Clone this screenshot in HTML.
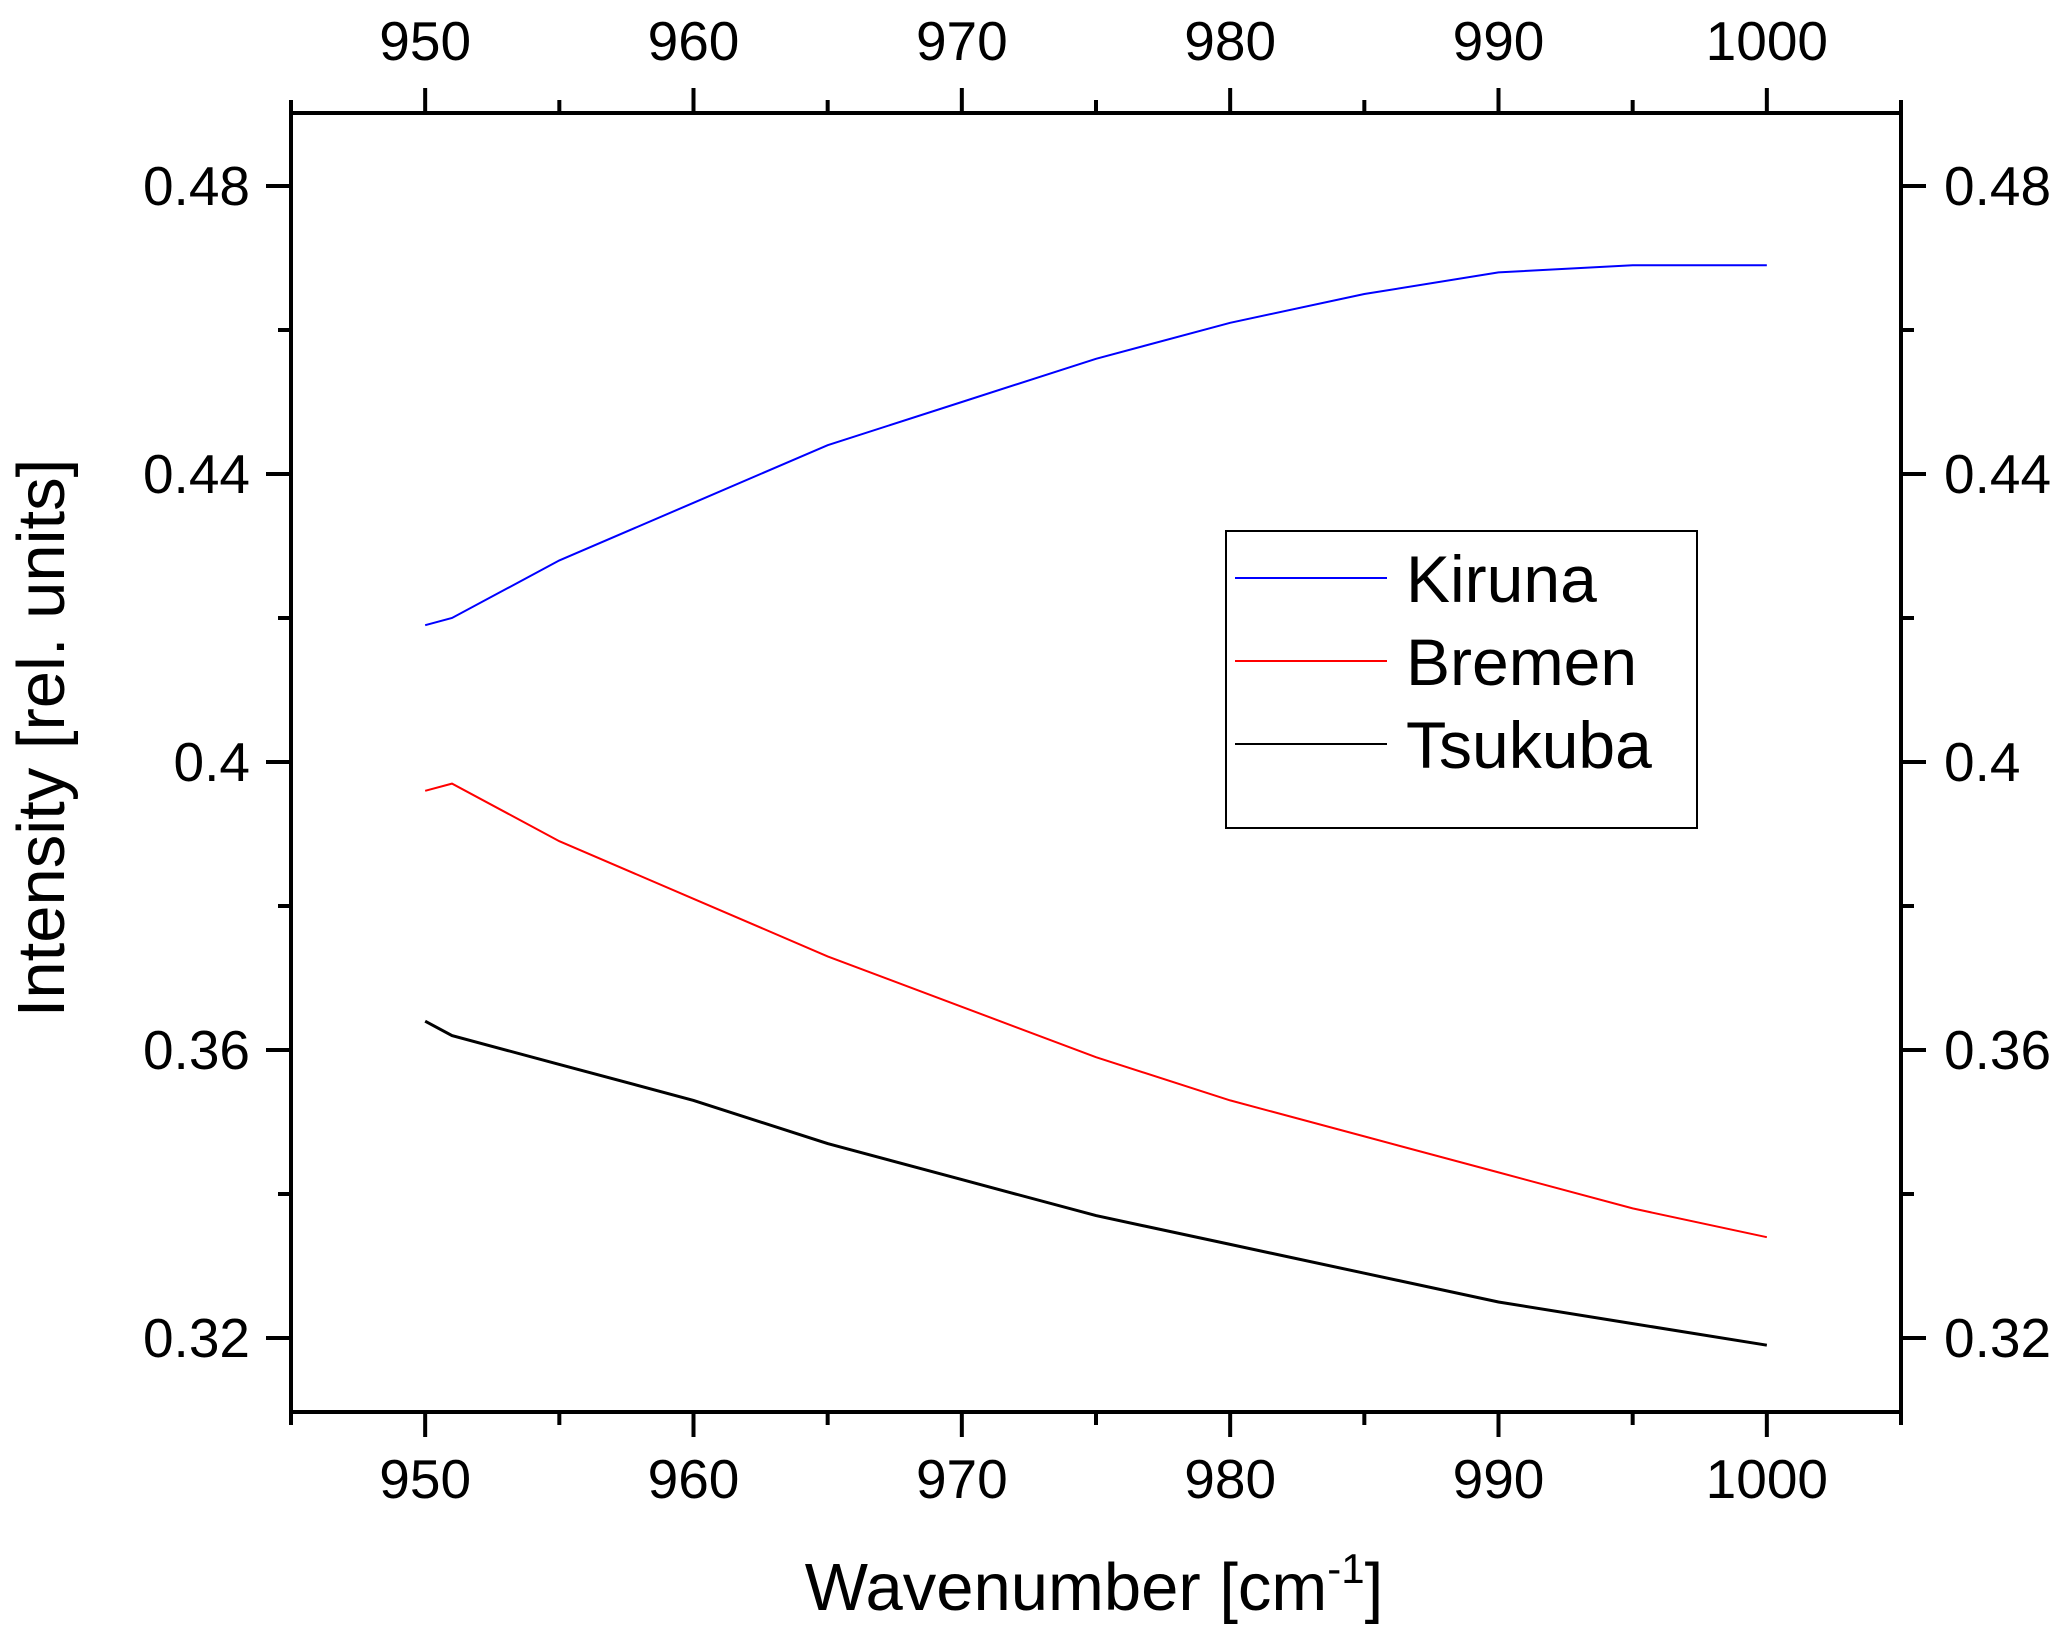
<!DOCTYPE html>
<html><head><meta charset="utf-8"><style>
html,body{margin:0;padding:0;background:#fff}
svg{display:block;font-family:"Liberation Sans",Arial,sans-serif}
</style></head><body>
<svg id="chart" width="2067" height="1640" viewBox="0 0 2067 1640" xmlns="http://www.w3.org/2000/svg">
<rect width="2067" height="1640" fill="#fff"/>
<g id="marks"></g>
<rect x="291" y="113" width="1610" height="1299" fill="none" stroke="#000" stroke-width="4"/>
<g id="axes"></g>
<text x="1094" y="1610" font-size="67" text-anchor="middle">Wavenumber [cm<tspan font-size="42" dy="-27">-1</tspan><tspan dy="27">]</tspan></text>
<text transform="translate(64,738) rotate(-90)" font-size="67" text-anchor="middle">Intensity [rel. units]</text>
<g>
<rect x="1226" y="531" width="471" height="297" fill="#fff" stroke="#000" stroke-width="2"/>
<line x1="1235" y1="578" x2="1387" y2="578" stroke="#0000ff" stroke-width="2"/>
<text x="1406" y="602" font-size="66">Kiruna</text>
<line x1="1235" y1="661" x2="1387" y2="661" stroke="#ff0000" stroke-width="2"/>
<text x="1406" y="685" font-size="66">Bremen</text>
<line x1="1235" y1="744" x2="1387" y2="744" stroke="#000" stroke-width="2"/>
<text x="1406" y="768" font-size="66">Tsukuba</text>
</g>
</svg>
<script>
const wavenumbers = [950, 951, 955, 960, 965, 970, 975, 980, 985, 990, 995, 1000];
const kiruna  = [0.419, 0.420, 0.428, 0.436, 0.444, 0.450, 0.456, 0.461, 0.465, 0.468, 0.469, 0.469];
const bremen  = [0.396, 0.397, 0.389, 0.381, 0.373, 0.366, 0.359, 0.353, 0.348, 0.343, 0.338, 0.334];
const tsukuba = [0.364, 0.362, 0.358, 0.353, 0.347, 0.342, 0.337, 0.333, 0.329, 0.325, 0.322, 0.319];
const xTicks = [950, 960, 970, 980, 990, 1000];
const xMinor = [945, 955, 965, 975, 985, 995, 1005];
const yTicks = [0.32, 0.36, 0.4, 0.44, 0.48];
const yTickLabels = ["0.32", "0.36", "0.4", "0.44", "0.48"];
const yMinor = [0.34, 0.38, 0.42, 0.46];

const L=291,R=1901,T=113,B=1412;
const xs = v => L + (v-945)/(1005-945)*(R-L);
const ys = v => 1338 - (v-0.32)*7200;
const NS="http://www.w3.org/2000/svg";
const marks=document.getElementById('marks'), axes=document.getElementById('axes');
function mk(tag, attrs, parent){const e=document.createElementNS(NS,tag);for(const k in attrs)e.setAttribute(k,attrs[k]);parent.appendChild(e);return e;}

[[kiruna,'#0000ff','kiruna',2],[bremen,'#ff0000','bremen',2],[tsukuba,'#000000','tsukuba',3]].forEach(([s,c,n,w])=>{
  const p=mk('polyline',{points:s.map((v,i)=>xs(wavenumbers[i])+','+ys(v)).join(' '),fill:'none',stroke:c,'stroke-width':w},marks);
  
  
});

xTicks.forEach(v=>{
  const x=xs(v);
  const t1=mk('line',{x1:x,y1:B,x2:x,y2:B+25,stroke:'#000','stroke-width':4},axes);
  
  
  const t2=mk('line',{x1:x,y1:T,x2:x,y2:T-25,stroke:'#000','stroke-width':4},axes);
  
  
  const l1=mk('text',{x:x,y:1498,'font-size':55,'text-anchor':'middle'},axes);l1.textContent=v;
  
  
  const l2=mk('text',{x:x,y:60,'font-size':55,'text-anchor':'middle'},axes);l2.textContent=v;
  
  
});
xMinor.forEach(v=>{
  const x=xs(v);
  const a=mk('line',{x1:x,y1:B,x2:x,y2:B+13,stroke:'#000','stroke-width':4},axes);
  
  
  const b=mk('line',{x1:x,y1:T,x2:x,y2:T-13,stroke:'#000','stroke-width':4},axes);
  
  
});
yTicks.forEach((v,i)=>{
  const y=ys(v);
  const a=mk('line',{x1:L,y1:y,x2:L-25,y2:y,stroke:'#000','stroke-width':4},axes);
  
  
  const b=mk('line',{x1:R,y1:y,x2:R+25,y2:y,stroke:'#000','stroke-width':4},axes);
  
  
  const l1=mk('text',{x:250,y:y+19,'font-size':55,'text-anchor':'end'},axes);l1.textContent=yTickLabels[i];
  
  
  const l2=mk('text',{x:1944,y:y+19,'font-size':55,'text-anchor':'start'},axes);l2.textContent=yTickLabels[i];
  
  
});
yMinor.forEach(v=>{
  const y=ys(v);
  const a=mk('line',{x1:L,y1:y,x2:L-13,y2:y,stroke:'#000','stroke-width':4},axes);
  
  
  const b=mk('line',{x1:R,y1:y,x2:R+13,y2:y,stroke:'#000','stroke-width':4},axes);
  
  
});
</script>
</body></html>
